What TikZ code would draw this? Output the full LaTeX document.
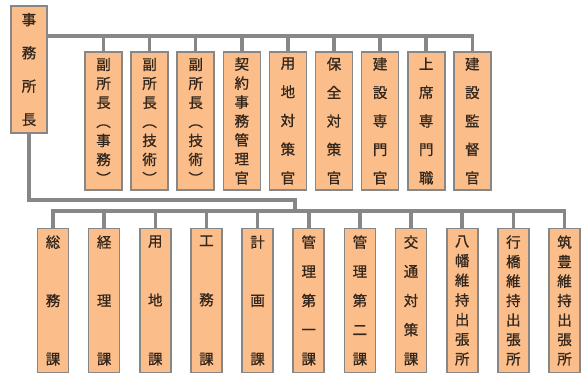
\documentclass[tikz,border=0pt]{standalone}
\usepackage{fontspec}
\setmainfont[FakeBold=0.8]{Noto Sans CJK JP}
\usepackage{xcolor}
\usetikzlibrary{
    positioning,
    calc
}
\definecolor{peach}{HTML}{FBBE8A}
\definecolor{linegray}{HTML}{878787}
\definecolor{inkbrown}{HTML}{33261C}

% vertical text, characters spread over the given height
\makeatletter
\newif\iffirstch
\newcommand{\tate}[2]{%
    \edef\tatelist{#2}%
    \parbox[c][#1][s]{20pt}{\centering\firstchtrue
        \expandafter\@tfor\expandafter\ch\expandafter:\expandafter=\tatelist\do{%
            \iffirstch\firstchfalse\else\par\vfill\fi\ch}\par}}
\makeatother

\tikzset{
    box/.style={draw=linegray, line width=1.6pt, fill=peach, inner sep=0pt,
        text=inkbrown, font=\fontsize{14.5}{16}\selectfont},
    chiefbox/.style={box, minimum width=36pt, minimum height=127pt},
    upperbox/.style={box, minimum width=37pt, minimum height=138pt},
    lowerbox/.style={box, minimum width=31pt, minimum height=144pt},
    bus/.style={draw=linegray, line width=3.5pt}
}

\begin{document}
\begin{tikzpicture}[x=1pt, y=-1pt]
                \useasboundingbox (0,0) rectangle (587,374);
                \node[chiefbox] (chief) at (29,69.5) {\tate{112pt}{事務所長}};
                \foreach \t [count=\i] in {副所長︵事務︶,副所長︵技術︶,副所長︵技術︶,契約事務管理官,用地対策官,保全対策官,建設専門官,上席専門職,建設監督官}{
                    \node[upperbox] (u\i) at ({103.5+46.1*(\i-1)},121) {\tate{126pt}{\t}};
                }
                \foreach \t [count=\i] in {総務課,経理課,用地課,工務課,計画課,管理第一課,管理第二課,交通対策課,八幡維持出張所,行橋維持出張所,筑豊維持出張所}{
                    \node[lowerbox] (l\i) at ({53+51.15*(\i-1)},300.5) {\tate{129pt}{\t}};
                }

                % upper row
                \coordinate (bus1) at (0,36);
                \draw[bus] (chief.east |- bus1) -| (u9.north);
                \foreach \i in {1,...,8}{
                    \draw[bus] (u\i.north) -- (u\i.north |- bus1);
                }

                % lower row
                \coordinate (bend) at (295,200);
                \coordinate (bus2) at (0,211);
                \draw[bus] (chief.south) |- (bend) -- (bend |- bus2);
                \draw[bus] (l1.north) |- (l11.north |- bus2) -- (l11.north);
                \foreach \i in {2,...,10}{
                    \draw[bus] (l\i.north) -- (l\i.north |- bus2);
                }
            \end{tikzpicture}
\end{document}
